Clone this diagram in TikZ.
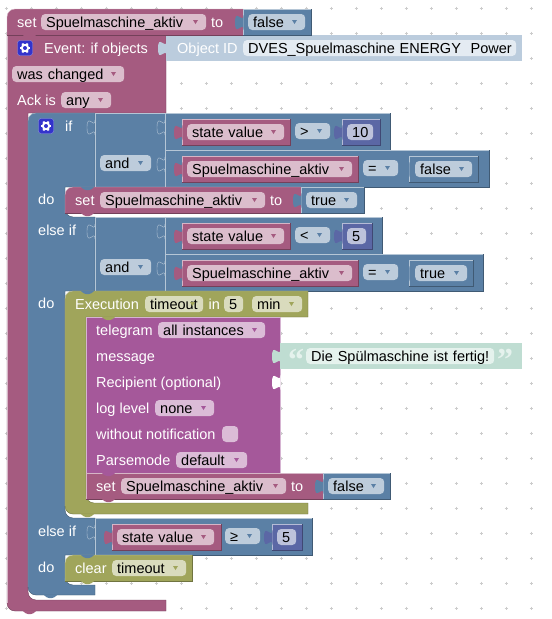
\documentclass[tikz,border=0pt]{standalone}
\usepackage{fontspec}
\setmainfont{Liberation Sans}
\newfontfamily\quotefont{Liberation Serif}
\usetikzlibrary{positioning, calc}
\definecolor{varblk}{HTML}{A55B80}
\definecolor{logicblk}{HTML}{5B80A5}
\definecolor{timerblk}{HTML}{A0A55B}
\definecolor{sendblk}{HTML}{A5589A}
\definecolor{numblk}{HTML}{5B67A5}
\definecolor{idshadow}{HTML}{BBCCDD}
\definecolor{idpill}{HTML}{E4EBF2}
\definecolor{txtshadow}{HTML}{BFDDD2}
\definecolor{txtpill}{HTML}{E5F2ED}
\definecolor{gearblue}{HTML}{3333CC}
% plain block: #1 colour, then the two corners
\newcommand{\blockrect}[5]{%
  \fill[#1] (#2,#3) rectangle (#4,#5);
  \draw[#1!70!black] (#4,#3) -- (#4,#5) -- (#2,#5);
  \draw[#1!45!white] (#2,#5) -- (#2,#3) -- (#4,#3);
}
% input tab on the left side of a block
\newcommand{\puzzletab}[3]{%
  \fill[#1] (#2+.5,#3) .. controls (#2,#3+10) and (#2-8,#3-8) .. (#2-8,#3+7.5)
    .. controls (#2-8,#3+23) and (#2,#3+5) .. (#2+.5,#3+15) -- cycle;
}
% the same tab as an outline only
\newcommand{\puzzleslot}[2]{%
  \draw[logicblk!45!white] (#1,#2) .. controls (#1,#2+10) and (#1-8,#2-8) .. (#1-8,#2+7.5)
    .. controls (#1-8,#2+23) and (#1,#2+5) .. (#1,#2+15);
}
% bump below a block
\newcommand{\notchbump}[3]{%
  \fill[#1, rounded corners=1.5pt] (#2+15,#3-.5) -- (#2+20,#3+3.2) -- (#2+25,#3+3.2) -- (#2+30,#3-.5) -- cycle;
}
% dropdown field: name, colour, x1, x2, y, text
\newcommand{\ddfield}[6]{%
  \pgfmathsetlengthmacro{\fieldw}{#4-#3}
  \node[fieldbox, fill=#2!40!white, text width=\fieldw-10pt] (#1) at (#3,#5) {\mbox{#6}};
  \fill[#2] ({#4-13},{#5-2}) -- ({#4-8},{#5-2}) -- ({#4-10.5},{#5+2}) -- cycle;
}
% value field without arrow
\newcommand{\valfield}[6]{%
  \pgfmathsetlengthmacro{\fieldw}{#4-#3}
  \node[fieldbox, fill=#2, text width=\fieldw-10pt] (#1) at (#3,#5) {\mbox{#6}};
}
\newcommand{\gearicon}[3]{%
  \node[gearbox] (#1) at (#2,#3) {};
  \foreach \a in {0,60,...,300}
    \draw[white, line width=2pt] ({#2+3*cos(\a)},{#3+3*sin(\a)}) -- ({#2+5.2*cos(\a)},{#3+5.2*sin(\a)});
  \fill[white] (#2,#3) circle (4.2);
  \fill[gearblue] (#2,#3) circle (2);
}
\begin{document}
\begin{tikzpicture}[
  x=1pt, y=-1pt,
  font=\fontsize{14.5}{16}\selectfont,
  lbl/.style={text=white, anchor=west, inner sep=0pt, text height=12pt, text depth=1.5pt},
  fieldbox/.style={rounded corners=4pt, anchor=west, align=left, text=black, inner xsep=5pt, inner ysep=1.25pt, text height=12pt, text depth=1.5pt},
  gearbox/.style={fill=gearblue, draw=gearblue!55!white, rounded corners=2.5pt, minimum size=15pt, inner sep=0pt},
  quotemark/.style={text=txtpill, inner sep=0pt, font=\quotefont\bfseries\fontsize{32}{32}\selectfont}
]
  \useasboundingbox (0,0) rectangle (552,619);
  \fill[white] (0,0) rectangle (552,619);

  % GRID
  \foreach \gx in {6.3,31.3,...,532}
    \foreach \gy in {8.3,33.3,...,609}
      \draw[black!20, line width=.8pt] (\gx-1.7,\gy) -- (\gx+1.7,\gy) (\gx,\gy-1.7) -- (\gx,\gy+1.7);

  % EVENT
  \filldraw[fill=varblk, draw=varblk!70!black] (7,35) -- (166,35) -- (166,113) -- (28,113) -- (28,592)
    .. controls (28,596.4) and (31.6,600) .. (36,600) -- (166,600) -- (166,611) -- (15,611) .. controls (10.6,611) and (7,607.4) .. (7,603) -- cycle;
  \draw[varblk!45!white] (7,603) -- (7,35) (7,35) -- (166,35);
  \notchbump{varblk}{7}{611}
  \fill[idshadow] (166,35) rectangle (522,61);
  \puzzletab{idshadow}{166}{41}
  \node[lbl] (idLbl) at (177,48) {Object ID};
  \valfield{idField}{idpill}{243}{516}{48}{DVES\_Spuelmaschine ENERGY\ \ Power}
  \gearicon{gearEvent}{25}{48}
  \node[lbl] (eventLbl) at (44,48) {Event: if objects};
  \ddfield{changeField}{varblk}{12}{124}{74}{was changed}
  \node[lbl] (ackLbl) at (17,100) {Ack is};
  \ddfield{ackField}{varblk}{61}{111}{100}{any}

  % TOP SET
  \fill[varblk] (7,17) .. controls (7,12.6) and (10.6,9) .. (15,9) -- (243,9) -- (243,35) -- (7,35) -- cycle;
  \draw[varblk!70!black] (243,35) -- (7,35);
  \draw[varblk!45!white] (7,35) -- (7,17) .. controls (7,12.6) and (10.6,9) .. (15,9) -- (243,9);
  \node[lbl] (setTopLbl) at (17,22) {set};
  \ddfield{setTopField}{varblk}{41}{206}{22}{Spuelmaschine\_aktiv}
  \node[lbl] (toTopLbl) at (211,22) {to};
  \blockrect{logicblk}{243}{9}{311}{35}
  \puzzletab{logicblk}{243}{15}
  \ddfield{falseTopField}{logicblk}{248}{305}{22}{false}
  \notchbump{varblk}{7}{35}

  % IF BLOCK
  \filldraw[fill=logicblk, draw=logicblk!70!black] (28,121) .. controls (28,116.6) and (31.6,113) .. (36,113) -- (95,113) -- (95,187) -- (65,187) -- (65,209)
    .. controls (65,213.4) and (68.6,217) .. (73,217) -- (95,217) -- (95,291) -- (65,291) -- (65,510)
    .. controls (65,514.4) and (68.6,518) .. (73,518) -- (95,518) -- (95,555) -- (65,555) -- (65,577)
    .. controls (65,581.4) and (68.6,585) .. (73,585) -- (95,585) -- (95,595) -- (36,595) .. controls (31.6,595) and (28,591.4) .. (28,587) -- cycle;
  \draw[logicblk!45!white] (28,587) -- (28,121) .. controls (28,116.6) and (31.6,113) .. (36,113) -- (95,113);
  \notchbump{logicblk}{28}{595}
  \gearicon{gearIf}{46}{126}
  \node[lbl] (ifLbl) at (65,126) {if};
  \node[lbl] (doLblA) at (38,199) {do};
  \node[lbl] (elseLblA) at (38,230) {else if};
  \node[lbl] (doLblB) at (38,303) {do};
  \node[lbl] (elseLblB) at (38,531) {else if};
  \node[lbl] (doLblC) at (38,567) {do};
  \puzzleslot{95}{120}
  \puzzleslot{95}{224}
  \puzzleslot{95}{525}

  % FIRST CONDITION
  \blockrect{logicblk}{95}{113}{165}{187}
  \ddfield{andFieldA}{logicblk}{100}{151}{163}{and}
  \puzzleslot{165}{120}
  \puzzleslot{165}{157}
  \blockrect{logicblk}{165}{113}{390}{150}
  \blockrect{varblk}{182}{119}{290}{145}
  \puzzletab{varblk}{182}{125}
  \ddfield{stateFieldA}{varblk}{187}{284}{132}{state value}
  \ddfield{cmpFieldA}{logicblk}{295}{330}{131}{>}
  \blockrect{numblk}{342}{119}{380}{145}
  \puzzletab{numblk}{342}{125}
  \valfield{numFieldA}{numblk!40!white}{347}{373}{132}{10}
  \blockrect{logicblk}{165}{150}{489}{187}
  \blockrect{varblk}{182}{156}{358}{182}
  \puzzletab{varblk}{182}{162}
  \ddfield{varFieldA}{varblk}{187}{352}{169}{Spuelmaschine\_aktiv}
  \ddfield{eqFieldA}{logicblk}{363}{398}{168}{=}
  \blockrect{logicblk}{409}{156}{478}{182}
  \puzzletab{logicblk}{409}{162}
  \ddfield{falseFieldA}{logicblk}{415}{472}{169}{false}

  % FIRST DO
  \fill[varblk] (65,195) .. controls (65,190.6) and (68.6,187) .. (73,187) -- (301,187) -- (301,213) -- (65,213) -- cycle;
  \draw[varblk!70!black] (301,213) -- (65,213);
  \draw[varblk!45!white] (65,213) -- (65,195) .. controls (65,190.6) and (68.6,187) .. (73,187) -- (301,187);
  \node[lbl] (setLblA) at (75,200) {set};
  \ddfield{setFieldA}{varblk}{100}{265}{200}{Spuelmaschine\_aktiv}
  \node[lbl] (toLblA) at (270,200) {to};
  \blockrect{logicblk}{301}{187}{364}{213}
  \puzzletab{logicblk}{301}{193}
  \ddfield{trueFieldA}{logicblk}{306}{357}{200}{true}
  \notchbump{logicblk}{65}{187}
  \notchbump{varblk}{65}{213}

  % SECOND CONDITION
  \blockrect{logicblk}{95}{217}{165}{291}
  \ddfield{andFieldB}{logicblk}{100}{151}{267}{and}
  \puzzleslot{165}{224}
  \puzzleslot{165}{261}
  \blockrect{logicblk}{165}{217}{382}{254}
  \blockrect{varblk}{182}{223}{290}{249}
  \puzzletab{varblk}{182}{229}
  \ddfield{stateFieldB}{varblk}{187}{284}{236}{state value}
  \ddfield{cmpFieldB}{logicblk}{295}{330}{235}{<}
  \blockrect{numblk}{342}{223}{372}{249}
  \puzzletab{numblk}{342}{229}
  \valfield{numFieldB}{numblk!40!white}{347}{366}{236}{5}
  \blockrect{logicblk}{165}{254}{483}{291}
  \blockrect{varblk}{182}{260}{358}{286}
  \puzzletab{varblk}{182}{266}
  \ddfield{varFieldB}{varblk}{187}{352}{273}{Spuelmaschine\_aktiv}
  \ddfield{eqFieldB}{logicblk}{363}{398}{272}{=}
  \blockrect{logicblk}{409}{260}{473}{286}
  \puzzletab{logicblk}{409}{266}
  \ddfield{trueFieldB}{logicblk}{415}{467}{273}{true}

  % EXECUTION
  \filldraw[fill=timerblk, draw=timerblk!70!black] (65,299) .. controls (65,294.6) and (68.6,291) .. (73,291) -- (308,291) -- (308,317) -- (86,317) -- (86,495)
    .. controls (86,499.4) and (89.6,503) .. (94,503) -- (308,503) -- (308,514) -- (73,514) .. controls (68.6,514) and (65,510.4) .. (65,506) -- cycle;
  \draw[timerblk!45!white] (65,506) -- (65,299) .. controls (65,294.6) and (68.6,291) .. (73,291) -- (308,291);
  \node[lbl] (execLbl) at (75,304) {Execution};
  \ddfield{timeoutFieldA}{timerblk}{145}{203}{304}{timeout}
  \node[lbl, right=5pt of timeoutFieldA] (inLbl) {in};
  \valfield{delayField}{timerblk!40!white}{224}{243}{304}{5}
  \ddfield{minField}{timerblk}{252}{302}{304}{min}
  \notchbump{logicblk}{65}{291}
  \notchbump{timerblk}{65}{514}

  % TELEGRAM
  \blockrect{sendblk}{86}{317}{280}{473}
  \draw[sendblk!45!white] (280,317) -- (280,473);
  \notchbump{timerblk}{86}{317}
  \node[lbl] (telegramLbl) at (96,330) {telegram};
  \ddfield{instField}{sendblk}{158}{265}{330}{all instances}
  \node[lbl] (messageLbl) at (96,356) {message};
  \fill[txtshadow] (280,343) rectangle (522,369);
  \puzzletab{txtshadow}{280}{349}
  \node[quotemark] (quoteOpen) at (296,360) {“};
  \valfield{textField}{txtpill}{306}{494}{356}{Die Spülmaschine ist fertig!}
  \node[quotemark] (quoteClose) at (505,360) {”};
  \node[lbl] (recipLbl) at (96,382) {Recipient (optional)};
  \puzzletab{white}{280}{375}
  \node[lbl] (logLbl) at (96,408) {log level};
  \ddfield{logField}{sendblk}{155}{214}{408}{none}
  \node[lbl] (notifyLbl) at (96,434) {without notification};
  \node[fill=sendblk!40!white, rounded corners=4pt, minimum size=16pt, inner sep=0pt, anchor=west] (notifyBox) at (222,434) {};
  \node[lbl] (parseLbl) at (96,460) {Parsemode};
  \ddfield{parseField}{sendblk}{176}{247}{460}{default}

  % SECOND DO
  \blockrect{varblk}{86}{473}{323}{499}
  \notchbump{sendblk}{86}{473}
  \notchbump{varblk}{86}{499}
  \node[lbl] (setLblB) at (96,486) {set};
  \ddfield{setFieldB}{varblk}{121}{286}{486}{Spuelmaschine\_aktiv}
  \node[lbl] (toLblB) at (291,486) {to};
  \blockrect{logicblk}{323}{473}{390}{499}
  \puzzletab{logicblk}{323}{479}
  \ddfield{falseFieldB}{logicblk}{328}{384}{486}{false}

  % THIRD CONDITION
  \blockrect{logicblk}{95}{518}{312}{555}
  \blockrect{varblk}{112}{524}{221}{550}
  \puzzletab{varblk}{112}{530}
  \ddfield{stateFieldC}{varblk}{117}{214}{537}{state value}
  \ddfield{cmpFieldC}{logicblk}{225}{260}{536}{≥}
  \blockrect{numblk}{272}{524}{302}{550}
  \puzzletab{numblk}{272}{530}
  \valfield{numFieldC}{numblk!40!white}{277}{296}{537}{5}

  % CLEAR
  \fill[timerblk] (65,563) .. controls (65,558.6) and (68.6,555) .. (73,555) -- (192,555) -- (192,581) -- (65,581) -- cycle;
  \draw[timerblk!70!black] (192,555) -- (192,581) -- (65,581);
  \draw[timerblk!45!white] (65,581) -- (65,563) .. controls (65,558.6) and (68.6,555) .. (73,555) -- (192,555);
  \node[lbl] (clearLbl) at (75,568) {clear};
  \ddfield{timeoutFieldB}{timerblk}{112}{186}{568}{timeout}
  \notchbump{logicblk}{65}{555}
  \notchbump{timerblk}{65}{581}
\end{tikzpicture}
\end{document}
